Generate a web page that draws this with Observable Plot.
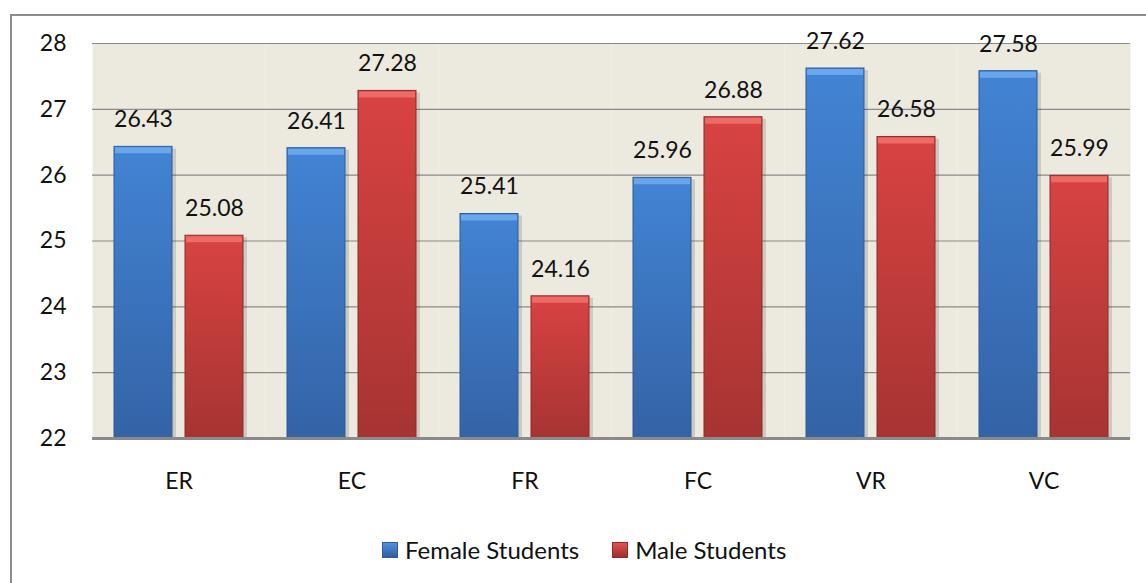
<!DOCTYPE html>
<html>
<head>
<meta charset="utf-8">
<script src="https://cdn.jsdelivr.net/npm/d3@7"></script>
<script src="https://cdn.jsdelivr.net/npm/@observablehq/plot@0.6"></script>
<style>
  html, body { margin: 0; padding: 0; background: #fff; }
  #wrap { position: relative; width: 1146px; height: 583px; overflow: hidden; font-family: Lato, "Open Sans", sans-serif; }
  #border { position: absolute; left: 10px; top: 14px; width: 1140px; height: 600px; border-left: 2px solid #8c8c8c; border-top: 2px solid #8c8c8c; box-sizing: border-box; }
  #chart { position: absolute; left: 0; top: 0; }
  #legend { position: absolute; top: 535px; left: 382px; display: flex; align-items: center; font-size: 24px; color: #111; }
  .sw { width: 16px; height: 16px; display: inline-block; margin-right: 7px; box-sizing: border-box; }
  .item { display: flex; align-items: center; margin-right: 33px; }
</style>
</head>
<body>
<div id="wrap">
  <div id="border"></div>
  <div id="chart"></div>
  <div id="legend"></div>
</div>
<script>
const categories = ["ER", "EC", "FR", "FC", "VR", "VC"];
const series = ["Female Students", "Male Students"];
const female = [26.43, 26.41, 25.41, 25.96, 27.62, 27.58];
const male = [25.08, 27.28, 24.16, 26.88, 26.58, 25.99];
const yTicks = [22, 23, 24, 25, 26, 27, 28];

const data = [];
categories.forEach((c, i) => {
  data.push({cat: c, series: series[0], value: female[i]});
  data.push({cat: c, series: series[1], value: male[i]});
});

const bevel = {"Female Students": "#6aa6ec", "Male Students": "#ee6a66"};

const plot = Plot.plot({
  width: 1146,
  height: 500,
  marginTop: 43,
  marginBottom: 62,
  marginLeft: 91,
  marginRight: 15,
  style: {fontFamily: "Lato, 'Open Sans', sans-serif", fontSize: "23px", color: "#111", background: "transparent"},
  fx: {domain: categories, padding: 0, axis: "bottom", tickSize: 0, tickPadding: 34, label: null},
  x: {domain: series, paddingInner: 0.18, paddingOuter: 0.293, axis: null},
  y: {domain: [22, 28], ticks: yTicks, tickFormat: d3.format("d"), tickSize: 0, tickPadding: 26, label: null},
  color: {domain: series, range: ["url(#gBlue)", "url(#gRed)"]},
  marks: [
    Plot.frame({fill: "#ece9df", stroke: null}),
    Plot.ruleY(yTicks.slice(1), {stroke: "#8a8a8a", strokeWidth: 1.2}),
    Plot.barY(data, {fx: "cat", x: "series", y1: 22, y2: "value", fill: "#000", fillOpacity: 0.13, dx: 4, dy: 2}),
    Plot.barY(data, {fx: "cat", x: "series", y1: 22, y2: "value", fill: "series", stroke: d => d.series === series[0] ? "#2d5c9a" : "#8f2b2a", strokeWidth: 1}),
    Plot.tickY(data, {fx: "cat", x: "series", y: "value", stroke: d => bevel[d.series], strokeWidth: 6, dy: 3.5, inset: 1}),
    Plot.ruleY([22], {stroke: "#8a8a8a", strokeWidth: 3}),
    Plot.text(data, {fx: "cat", x: "series", y: "value", text: d => d.value.toFixed(2), dy: -27, fontSize: 23, fill: "#111"})
  ]
});

const ns = "http://www.w3.org/2000/svg";
const defs = document.createElementNS(ns, "defs");
defs.innerHTML = `
  <linearGradient id="gBlue" x1="0" y1="0" x2="0" y2="1">
    <stop offset="0" stop-color="#4284d4"/>
    <stop offset="1" stop-color="#3463a6"/>
  </linearGradient>
  <linearGradient id="gRed" x1="0" y1="0" x2="0" y2="1">
    <stop offset="0" stop-color="#d84342"/>
    <stop offset="1" stop-color="#a63432"/>
  </linearGradient>`;
plot.insertBefore(defs, plot.firstChild);
document.getElementById("chart").appendChild(plot);

const legend = document.getElementById("legend");
const swatch = {"Female Students": "linear-gradient(#4f92e0, #2f5d9c)", "Male Students": "linear-gradient(#e05250, #a02f2e)"};
series.forEach(s => {
  const it = document.createElement("div");
  it.className = "item";
  const sw = document.createElement("span");
  sw.className = "sw";
  sw.style.background = swatch[s];
  sw.style.border = "1px solid " + (s === series[0] ? "#2d5c9a" : "#8f2b2a");
  const t = document.createElement("span");
  t.textContent = s;
  it.appendChild(sw);
  it.appendChild(t);
  legend.appendChild(it);
});
</script>
</body>
</html>
